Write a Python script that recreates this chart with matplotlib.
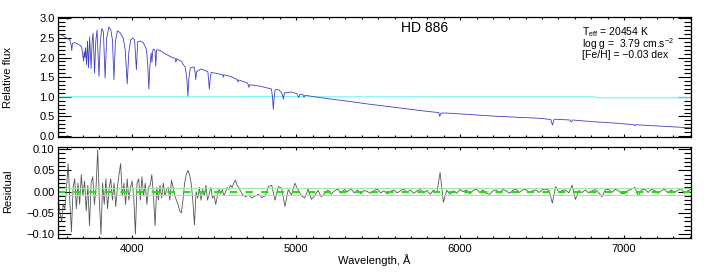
import numpy as np
import matplotlib
matplotlib.use("Agg")
import matplotlib.pyplot as plt
from matplotlib.ticker import MultipleLocator, FuncFormatter

plt.rcParams['font.family'] = ['Liberation Sans', 'DejaVu Sans']
plt.rcParams['mathtext.fontset'] = 'custom'
plt.rcParams['mathtext.rm'] = 'Liberation Sans'
plt.rcParams['mathtext.default'] = 'regular'

flux_wave = [3548, 3560, 3575, 3590, 3605, 3620, 3628, 3632, 3636, 3650,
             3665, 3680, 3692, 3704, 3708, 3712, 3716, 3722, 3728, 3734,
             3741, 3750, 3756, 3762, 3771, 3778, 3786, 3798, 3806, 3815,
             3825, 3835, 3845, 3858, 3870, 3880, 3889, 3898, 3910, 3925,
             3945, 3958, 3970, 3980, 3992, 4005, 4015, 4026, 4034, 4050,
             4068, 4088, 4096, 4102, 4108, 4116, 4121, 4126, 4132, 4140,
             4144, 4149, 4170, 4200, 4240, 4262, 4267, 4272, 4300, 4325,
             4334, 4340, 4346, 4355, 4378, 4384, 4388, 4393, 4420, 4462,
             4466, 4471, 4476, 4482, 4510, 4553, 4556, 4560, 4600, 4640,
             4645, 4650, 4700, 4708, 4713, 4718, 4780, 4850, 4856, 4861,
             4866, 4872, 4895, 4915, 4922, 4929, 4970, 5005, 5016, 5024,
             5042, 5048, 5054, 5100, 5200, 5330, 5450, 5570, 5700, 5820,
             5870, 5876, 5882, 5890, 5950, 6060, 6200, 6350, 6500, 6553,
             6563, 6573, 6580, 6670, 6678, 6686, 6800, 6950, 7060, 7065,
             7070, 7200, 7408]
flux_vals = [2.62, 2.58, 2.57, 2.52, 2.49, 2.45, 2.32, 2.18, 2.36, 2.38,
             2.35, 2.32, 2.28, 1.91, 2.15, 2.00, 2.25, 1.82, 2.42, 1.74,
             2.52, 1.72, 2.40, 2.62, 1.61, 2.40, 2.70, 1.52, 2.40, 2.74,
             2.65, 1.48, 2.50, 2.78, 2.70, 2.45, 1.44, 2.40, 2.68, 2.64,
             2.50, 2.20, 1.33, 2.15, 2.45, 2.50, 2.45, 1.69, 2.40, 2.42,
             2.38, 2.20, 1.75, 1.20, 1.75, 2.12, 1.88, 2.18, 2.22, 2.16,
             1.78, 2.20, 2.18, 2.10, 2.01, 1.98, 1.88, 1.97, 1.90, 1.74,
             1.45, 1.02, 1.45, 1.74, 1.76, 1.62, 1.44, 1.64, 1.71, 1.64,
             1.45, 1.20, 1.45, 1.62, 1.60, 1.56, 1.50, 1.56, 1.52, 1.44,
             1.38, 1.43, 1.36, 1.31, 1.24, 1.31, 1.27, 1.20, 0.98, 0.68,
             0.98, 1.18, 1.18, 1.08, 0.94, 1.10, 1.12, 1.08, 0.98, 1.07,
             1.05, 0.99, 1.04, 1.01, 0.95, 0.88, 0.81, 0.75, 0.68, 0.62,
             0.60, 0.50, 0.58, 0.59, 0.58, 0.55, 0.51, 0.48, 0.45, 0.42,
             0.28, 0.42, 0.43, 0.41, 0.36, 0.41, 0.37, 0.33, 0.29, 0.26,
             0.29, 0.26, 0.21]

# Ratio curve (cyan) near 1
ratio_wave = [3548, 4650, 4700, 4850, 5100, 6820, 6850, 7408]
ratio_vals = [1.00, 1.00, 1.01, 1.01, 1.00, 1.00, 0.975, 0.975]

# Residuals, blue part (evenly spaced 3550-4640 A)
res_blue = [-0.02, -0.05, -0.07, -0.03, -0.04, 0.01, 0.065, -0.02, -0.095, 0.01,
            0.03, -0.04, 0.02, -0.03, 0.04, -0.01, 0.025, -0.045, 0.015, -0.08,
            0.02, 0.035, -0.03, 0.01, 0.098, -0.02, -0.10, 0.02, -0.03, 0.03,
            -0.04, 0.01, 0.03, -0.02, 0.02, -0.035, 0.01, 0.04, 0.066, -0.01,
            0.02, -0.03, 0.03, -0.02, 0.01, 0.025, -0.015, -0.10, 0.02, 0.03,
            -0.02, 0.035, -0.01, 0.02, -0.03, 0.01, 0.015, 0.04, -0.01, -0.08,
            0.01, -0.02, 0.015, -0.015, 0.02, -0.01, 0.005, 0.01, -0.02, 0.027,
            0.01, -0.01, -0.02, -0.03, -0.045, -0.05, -0.02, 0.02, 0.04, 0.05,
            0.04, 0.02, -0.02, -0.078, 0.0, -0.015, 0.01, -0.02, 0.005, -0.01,
            0.015, -0.02, -0.005, 0.01, -0.015, -0.01, -0.03, -0.01, 0.005, -0.005,
            0.005, -0.01, 0.0, 0.01, 0.005, 0.015, 0.01, 0.02, 0.027, 0.015]
# Residuals, red part (evenly spaced 4650-7408 A)
res_red = [0.01, -0.005, -0.012, -0.008, -0.015, -0.01, -0.006, -0.014, -0.01, 0.012,
           0.015, -0.02, 0.012, 0.008, -0.035, 0.005, -0.008, 0.02, 0.004, -0.01,
           -0.015, 0.006, -0.018, -0.01, 0.003, -0.012, -0.005, 0.004, -0.006, 0.002,
           0.006, -0.004, 0.005, 0.0, 0.007, -0.003, 0.004, -0.005, 0.003, 0.0,
           -0.004, 0.003, 0.006, -0.003, 0.002, -0.005, 0.001, 0.004, -0.003, 0.002,
           0.006, -0.002, 0.004, -0.004, 0.002, 0.005, -0.003, 0.003, -0.006, 0.004,
           -0.003, 0.045, -0.025, 0.003, -0.006, 0.002, -0.004, 0.005, 0.0, 0.004,
           -0.005, 0.003, 0.006, -0.002, 0.004, -0.004, -0.006, 0.002, 0.004, -0.003,
           0.005, 0.002, -0.004, 0.003, 0.006, -0.002, 0.004, 0.005, -0.003, 0.002,
           0.004, -0.002, 0.005, 0.006, 0.003, -0.027, 0.012, -0.002, 0.003, 0.004,
           -0.003, 0.015, -0.018, 0.003, -0.002, 0.004, -0.003, 0.002, 0.005, -0.002,
           -0.012, 0.004, 0.006, -0.002, 0.005, 0.003, -0.005, -0.004, 0.003, 0.006,
           0.01, -0.01, 0.004, 0.006, -0.002, 0.005, 0.003, -0.004, 0.002, 0.006,
           -0.003, 0.004, -0.002, 0.003, 0.007, -0.004, 0.002, 0.006]
res_band = 0.008

res_wave = np.concatenate([np.linspace(3550, 4640, len(res_blue)),
                           np.linspace(4650, 7408, len(res_red))])
res_vals = np.array(res_blue + res_red)

xlim = (3548, 7408)

fig = plt.figure(figsize=(7.09, 2.75), dpi=100)
ax1 = fig.add_axes([58/709, 1-136.5/275, 633/709, 119.8/275])
ax2 = fig.add_axes([58/709, 1-238/275, 633/709, 91/275])

ax1.plot(ratio_wave, ratio_vals, color='#80f4f4', lw=0.9)
ax1.plot(flux_wave, flux_vals, color='#4040c4', lw=0.6)
ax1.set_xlim(xlim)
ax1.set_ylim(-0.01, 3.04)

ax2.plot(res_wave, res_vals, color='#555555', lw=0.6)
ax2.axhline(res_band, color='#9aee9a', lw=0.8)
ax2.axhline(-res_band, color='#9aee9a', lw=0.8)
ax2.axhline(0, color='#22dd22', lw=1.5, linestyle=(0, (3.5, 4)))
ax2.set_xlim(xlim)
ax2.set_ylim(-0.109, 0.105)

fmt = lambda d: FuncFormatter(lambda v, p: ('%.*f' % (d, v)).replace('-', '\u2212')
                              if abs(v) > 1e-9 else '%.*f' % (d, 0))
for ax in (ax1, ax2):
    ax.xaxis.set_major_locator(MultipleLocator(1000))
    ax.xaxis.set_minor_locator(MultipleLocator(100))
    ax.tick_params(which='both', direction='in', top=True, right=True,
                   width=0.8, labelsize=8, colors='black')
    ax.tick_params(axis='y', which='major', length=9.4, pad=2.5)
    ax.tick_params(axis='y', which='minor', length=4.7)
    ax.tick_params(axis='x', which='major', length=2.4, pad=4)
    ax.tick_params(axis='x', which='minor', length=1.4)
    for s in ax.spines.values():
        s.set_linewidth(0.9)

ax1.yaxis.set_major_locator(MultipleLocator(0.5))
ax1.yaxis.set_minor_locator(MultipleLocator(0.1))
ax1.yaxis.set_major_formatter(fmt(1))
ax1.tick_params(axis='x', labelbottom=False)

ax2.yaxis.set_major_locator(MultipleLocator(0.05))
ax2.yaxis.set_minor_locator(MultipleLocator(0.01))
ax2.yaxis.set_major_formatter(fmt(2))

fig.text(8/709, 1-77/275, 'Relative flux', rotation=90, ha='center', va='center', fontsize=8)
fig.text(8/709, 1-191/275, 'Residual', rotation=90, ha='center', va='center', fontsize=8)
fig.text(374.5/709, 1-260/275, 'Wavelength, \u00c5', ha='center', va='center', fontsize=8)

fig.text(425/709, 1-28/275, 'HD 886', ha='center', va='center', fontsize=10)
fig.text(582/709, 1-25/275,
         'T$_{eff}$ = 20454 K\nlog g =  3.79 cm.s$^{-2}$\n[Fe/H] = \u22120.03 dex',
         ha='left', va='top', fontsize=7.5, linespacing=0.78)

fig.savefig('out.png', dpi=100)
